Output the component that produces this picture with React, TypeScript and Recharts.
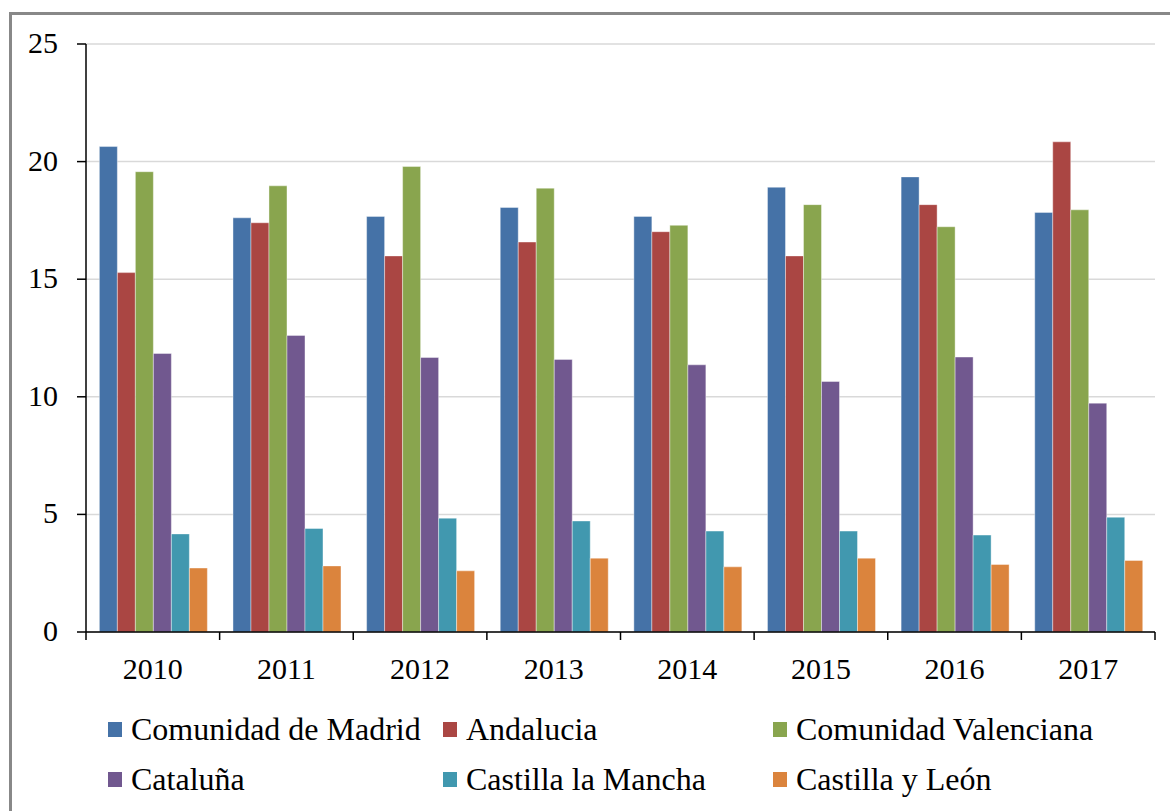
import { BarChart, Bar, XAxis, YAxis, CartesianGrid } from "recharts"

const years = ["2010", "2011", "2012", "2013", "2014", "2015", "2016", "2017"]

const madrid = [20.64, 17.61, 17.67, 18.05, 17.67, 18.91, 19.35, 17.84]
const andalucia = [15.28, 17.4, 15.99, 16.58, 17.02, 15.99, 18.17, 20.84]
const valenciana = [19.57, 18.97, 19.79, 18.87, 17.29, 18.17, 17.23, 17.95]
const cataluna = [11.84, 12.61, 11.67, 11.59, 11.36, 10.65, 11.69, 9.73]
const castillaMancha = [4.17, 4.4, 4.84, 4.72, 4.29, 4.29, 4.12, 4.88]
const castillaLeon = [2.72, 2.81, 2.6, 3.14, 2.77, 3.14, 2.87, 3.04]

const yTicks = [0, 5, 10, 15, 20, 25]

const series = [
  { key: "Comunidad de Madrid", values: madrid, color: "#4572A7" },
  { key: "Andalucia", values: andalucia, color: "#AA4643" },
  { key: "Comunidad Valenciana", values: valenciana, color: "#89A54E" },
  { key: "Cataluña", values: cataluna, color: "#71588F" },
  { key: "Castilla la Mancha", values: castillaMancha, color: "#4198AF" },
  { key: "Castilla y León", values: castillaLeon, color: "#DB843D" },
]

const data = years.map((year, i) => {
  const row: { [k: string]: string | number } = { year }
  series.forEach((s) => {
    row[s.key] = s.values[i]
  })
  return row
})

const FONT = "'Liberation Serif', 'Times New Roman', serif"
const W = 1170
const H = 811
const M = { top: 44, right: 15, left: 0, bottom: 119 }
const Y_W = 86
const BAND = (W - M.right - Y_W) / years.length

function YearTick(props: any) {
  const { x, y, payload, index } = props
  const last = index === years.length - 1
  return (
    <g>
      <line x1={x - BAND / 2} x2={x - BAND / 2} y1={y - 8} y2={y} stroke="#000" strokeWidth={1.5} />
      {last && <line x1={x + BAND / 2} x2={x + BAND / 2} y1={y - 8} y2={y} stroke="#000" strokeWidth={1.5} />}
      <text x={x} y={y + 39} textAnchor="middle" style={{ fontSize: 30, fontFamily: FONT }} fill="#000">
        {payload.value}
      </text>
    </g>
  )
}

function ValueTick(props: any) {
  const { x, y, payload } = props
  return (
    <text x={x} y={y + 9} textAnchor="end" style={{ fontSize: 30, fontFamily: FONT }} fill="#000">
      {payload.value}
    </text>
  )
}

function LegendBox() {
  return (
    <div
      style={{
        position: "absolute",
        left: 108,
        top: 713,
        display: "grid",
        gridTemplateColumns: "335px 330px 380px",
        rowGap: 18,
        fontFamily: FONT,
        fontSize: 32,
        color: "#000",
      }}
    >
      {series.map((s) => (
        <div key={s.key} style={{ display: "flex", alignItems: "center", whiteSpace: "nowrap", height: 32 }}>
          <span style={{ display: "inline-block", width: 14, height: 15, background: s.color, marginRight: 9 }} />
          {s.key}
        </div>
      ))}
    </div>
  )
}

export default function App() {
  return (
    <div style={{ position: "absolute", left: 0, top: 0, width: W, height: H, overflow: "hidden", background: "#fff" }}>
      <div
        style={{
          position: "absolute",
          left: 9,
          top: 12,
          width: 1200,
          height: 900,
          border: "3px solid #888",
          boxSizing: "border-box",
        }}
      />
      <BarChart width={W} height={H} data={data} margin={M} barCategoryGap="10%" barGap={0}>
        <CartesianGrid vertical={false} stroke="#d9d9d9" strokeWidth={1.5} />
        <XAxis
          dataKey="year"
          tick={<YearTick />}
          tickLine={false}
          axisLine={{ stroke: "#000", strokeWidth: 1.5 }}
          height={60}
          interval={0}
        />
        <YAxis
          domain={[0, 25]}
          ticks={yTicks}
          width={Y_W}
          tickSize={9}
          tickMargin={19}
          axisLine={{ stroke: "#000", strokeWidth: 1.5 }}
          tickLine={{ stroke: "#000", strokeWidth: 1.5 }}
          tick={<ValueTick />}
        />
        {series.map((s) => (
          <Bar
            key={s.key}
            dataKey={s.key}
            fill={s.color}
            stroke="#fff"
            strokeOpacity={0.5}
            strokeWidth={0.8}
            isAnimationActive={false}
          />
        ))}
      </BarChart>
      <LegendBox />
    </div>
  )
}
